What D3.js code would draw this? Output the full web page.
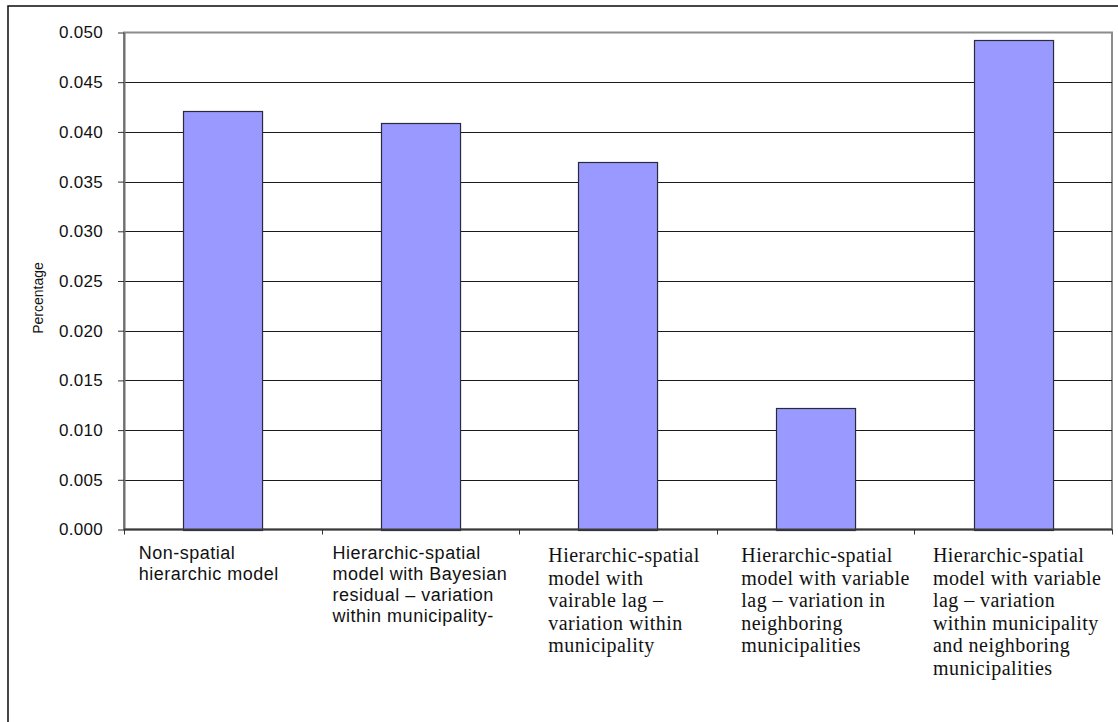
<!DOCTYPE html>
<html>
<head>
<meta charset="utf-8">
<script src="https://cdn.jsdelivr.net/npm/d3@7"></script>
<style>
  body { margin: 0; background: #fff; }
  svg { display: block; }
</style>
</head>
<body>
<svg id="chart" width="1118" height="722"></svg>
<script>
// Model names, wrapped as they appear under each bar
const categories = [
  ["Non-spatial", "hierarchic model"],
  ["Hierarchic-spatial", "model with Bayesian", "residual \u2013 variation", "within municipality-"],
  ["Hierarchic-spatial", "model with", "vairable lag \u2013", "variation within", "municipality"],
  ["Hierarchic-spatial", "model with variable", "lag \u2013 variation in", "neighboring", "municipalities"],
  ["Hierarchic-spatial", "model with variable", "lag \u2013 variation", "within municipality", "and neighboring", "municipalities"]
];
// Percentage per model
const values = [0.0421, 0.0409, 0.0370, 0.0122, 0.0492];
// Which typeface each category label uses
const labelFaces = ["sans", "sans", "serif", "serif", "serif"];
// Value-axis ticks
const yTicks = [0.000, 0.005, 0.010, 0.015, 0.020, 0.025, 0.030, 0.035, 0.040, 0.045, 0.050];
const yTitle = "Percentage";

const svg = d3.select("#chart");
const W = 1118, H = 722;
const plot = { left: 124, right: 1112, top: 32.5, bottom: 529.5 };
// Horizontal shift of each category label block away from its slot centre
const labelNudge = [-14, 0, 6, 10, 4];

svg.append("rect").attr("width", W).attr("height", H).attr("fill", "#fff");

// Outer chart frame (runs past the right and bottom edges)
svg.append("rect")
  .attr("x", 8).attr("y", 6)
  .attr("width", W + 20).attr("height", H + 20)
  .attr("fill", "none").attr("stroke", "#1a1a1a").attr("stroke-width", 1.6);

const x = d3.scaleBand()
  .domain(d3.range(values.length))
  .range([plot.left, plot.right])
  .paddingInner(0.6).paddingOuter(0.3);

const y = d3.scaleLinear().domain([0, 0.05]).range([plot.bottom, plot.top]);

// Plot-area border
svg.append("rect")
  .attr("x", plot.left).attr("y", plot.top)
  .attr("width", plot.right - plot.left).attr("height", plot.bottom - plot.top)
  .attr("fill", "none").attr("stroke", "#8c8c8c").attr("stroke-width", 2);

// Horizontal gridlines
svg.append("g").selectAll("line")
  .data(yTicks.filter(t => t > 0 && t < 0.05))
  .join("line")
  .attr("x1", plot.left).attr("x2", plot.right)
  .attr("y1", d => Math.round(y(d)) + 0.5).attr("y2", d => Math.round(y(d)) + 0.5)
  .attr("stroke", "#1a1a1a").attr("stroke-width", 1);

// Bars
svg.append("g").selectAll("rect")
  .data(values)
  .join("rect")
  .attr("x", (d, i) => Math.round(x(i)) + 0.5)
  .attr("y", d => Math.round(y(d)) + 0.5)
  .attr("width", x.bandwidth())
  .attr("height", d => Math.round(y(0)) - Math.round(y(d)))
  .attr("fill", "#9999ff")
  .attr("stroke", "#2a2a3a").attr("stroke-width", 1.2);

// Value axis
const yAxis = d3.axisLeft(y)
  .tickValues(yTicks)
  .tickFormat(d3.format(".3f"))
  .tickSizeInner(6).tickSizeOuter(0).tickPadding(15);
const gy = svg.append("g").attr("transform", `translate(${plot.left},0)`).call(yAxis);
gy.select(".domain").attr("stroke", "#6e6e6e").attr("stroke-width", 2);
gy.selectAll(".tick line").attr("stroke", "#333");
gy.selectAll(".tick text")
  .attr("font-family", "Liberation Sans, Arial, sans-serif")
  .attr("font-size", 17).attr("letter-spacing", 0.3).attr("fill", "#111");

// Category axis: ticks sit on the boundaries between categories
const bounds = d3.range(values.length + 1).map(i => plot.left + i * x.step());
svg.append("line")
  .attr("x1", plot.left).attr("x2", plot.right)
  .attr("y1", plot.bottom).attr("y2", plot.bottom)
  .attr("stroke", "#3a3a3a").attr("stroke-width", 2);
svg.append("g").selectAll("line")
  .data(bounds)
  .join("line")
  .attr("x1", d => Math.round(d) + 0.5).attr("x2", d => Math.round(d) + 0.5)
  .attr("y1", plot.bottom).attr("y2", plot.bottom + 5)
  .attr("stroke", "#333");

// Category labels: left-aligned lines, block placed in its slot
const faces = {
  sans: { family: "Liberation Sans, Arial, sans-serif", size: 18, spacing: 0.5, lead: 21, first: 559 },
  serif: { family: "Liberation Serif, Times New Roman, serif", size: 20, spacing: 0.45, lead: 22.5, first: 562 }
};
categories.forEach((lines, i) => {
  const f = faces[labelFaces[i]];
  const t = svg.append("text")
    .attr("font-family", f.family).attr("font-size", f.size)
    .attr("letter-spacing", f.spacing).attr("fill", "#111");
  lines.forEach((ln, k) => {
    t.append("tspan").attr("x", 0).attr("y", f.first + k * f.lead).text(ln);
  });
  const bw = t.node().getBBox().width;
  const cx = x(i) + x.bandwidth() / 2 + labelNudge[i];
  t.attr("transform", `translate(${cx - bw / 2},0)`);
});

// Axis title
svg.append("text")
  .attr("transform", `translate(43,${(plot.top + plot.bottom) / 2 + 17}) rotate(-90)`)
  .attr("text-anchor", "middle")
  .attr("font-family", "Liberation Sans, Arial, sans-serif")
  .attr("font-size", 14).attr("fill", "#111")
  .text(yTitle);
</script>
</body>
</html>
